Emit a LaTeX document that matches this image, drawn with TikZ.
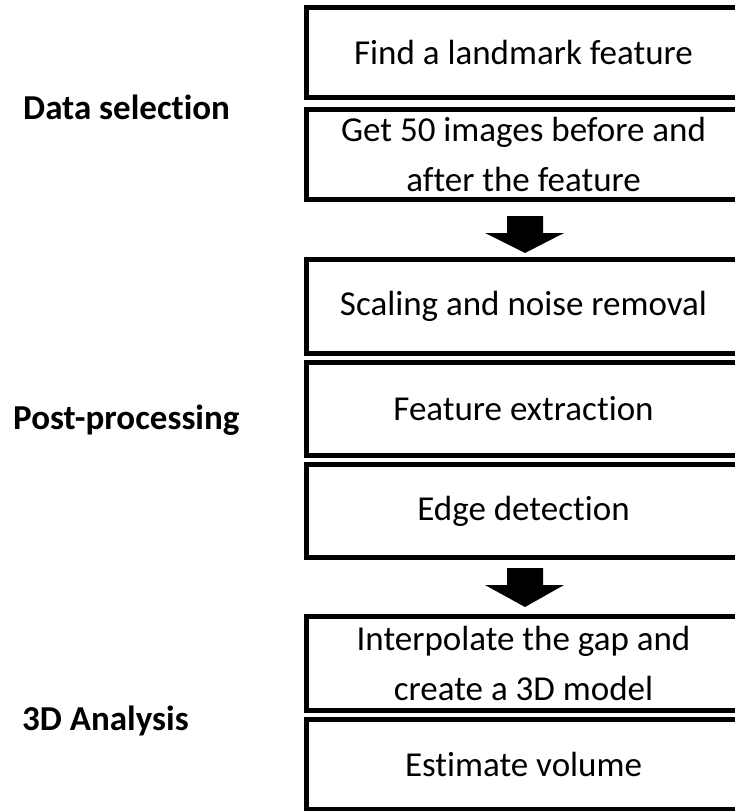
\documentclass[tikz,border=0pt]{standalone}
\usepackage{fontspec}
\setmainfont{Carlito}[Ligatures=NoCommon]
\usetikzlibrary{calc}
\begin{document}
\begin{tikzpicture}[x=1pt,y=-1pt,
  stepbox/.style={draw=black,line width=5pt,minimum width=435pt,inner sep=0pt,
    align=center,font=\fontsize{35}{50}\selectfont},
  phase/.style={anchor=base west,inner sep=0pt,font=\fontsize{35}{42}\selectfont\bfseries},
  bigarrow/.style={fill=black}]
\useasboundingbox (0,0) rectangle (735,811);
\clip (0,0) rectangle (735,811);
\node[stepbox,minimum height=90pt] (b1) at (523.5,52.5) {Find a landmark feature};
\node[stepbox,minimum height=90pt] (b2) at (523.5,154.5) {Get 50 images before and\\after the feature};
\node[stepbox,minimum height=93.5pt] (b3) at (523.5,306.25) {Scaling and noise removal};
\node[stepbox,minimum height=93pt] (b4) at (523.5,408.5) {Feature extraction};
\node[stepbox,minimum height=93pt] (b5) at (523.5,511) {Edge detection};
\node[stepbox,minimum height=94pt] (b6) at (523.5,663) {Interpolate the gap and\\create a 3D model};
\node[stepbox,minimum height=90pt] (b7) at (523.5,764.5) {Estimate volume};
\node[phase] (l1) at (23,119) {Data selection};
\node[phase] (l2) at (13,429) {Post-processing};
\node[phase] (l3) at (22,730) {3D Analysis};
\fill[bigarrow] ($(b2.south)+(-16.5,14)$) -- ($(b2.south)+(19.5,14)$) -- ($(b2.south)+(19.5,31)$)
  -- ($(b2.south)+(40.5,31)$) -- ($(b3.north)+(1.5,-4)$) -- ($(b2.south)+(-38.5,31)$)
  -- ($(b2.south)+(-16.5,31)$) -- cycle;
\fill[bigarrow] ($(b5.south)+(-16.5,8)$) -- ($(b5.south)+(19.5,8)$) -- ($(b5.south)+(19.5,25)$)
  -- ($(b5.south)+(40.5,25)$) -- ($(b6.north)+(1.5,-6.5)$) -- ($(b5.south)+(-38.5,25)$)
  -- ($(b5.south)+(-16.5,25)$) -- cycle;
\end{tikzpicture}
\end{document}
